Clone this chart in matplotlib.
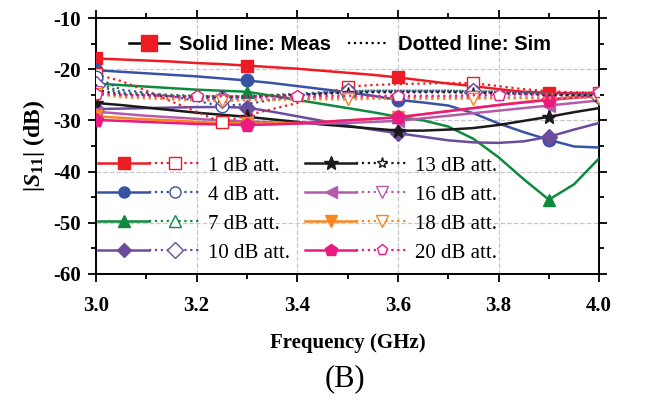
import numpy as np
import matplotlib
matplotlib.use('Agg')
import matplotlib.pyplot as plt
from matplotlib.lines import Line2D
from matplotlib.legend_handler import HandlerTuple

plt.rcParams['font.family'] = 'Liberation Serif'
plt.rcParams['axes.unicode_minus'] = False
plt.rcParams['mathtext.fontset'] = 'custom'
plt.rcParams['mathtext.rm'] = 'Liberation Serif:bold'
plt.rcParams['mathtext.it'] = 'Liberation Serif:bold:italic'
plt.rcParams['mathtext.bf'] = 'Liberation Serif:bold'

# frequency grid (GHz)
freq = np.round(np.arange(3.0, 4.0001, 0.05), 2)

labels = ['1 dB att.', '4 dB att.', '7 dB att.', '10 dB att.',
          '13 dB att.', '16 dB att.', '18 dB att.', '20 dB att.']

# measured |S11| (dB)
meas_1 = [-17.9, -18.1, -18.3, -18.5, -18.8, -19.0, -19.3, -19.6, -19.9, -20.3, -20.7,
          -21.1, -21.6, -22.2, -22.8, -23.3, -23.9, -24.4, -24.6, -24.7, -24.8]
meas_4 = [-20.2, -20.5, -20.8, -21.1, -21.4, -21.8, -22.2, -22.7, -23.3, -23.9, -24.5,
          -25.2, -26.0, -26.5, -27.1, -28.6, -30.6, -32.3, -33.8, -35.1, -35.3]
meas_7 = [-22.8, -23.1, -23.4, -23.7, -24.0, -24.2, -24.4, -25.2, -26.0, -26.8, -27.6,
          -28.4, -29.3, -30.0, -31.2, -33.6, -37.2, -41.5, -45.5, -42.5, -37.4]
meas_10 = [-27.8, -27.7, -27.6, -27.5, -27.4, -27.4, -27.5, -28.3, -29.2, -30.1, -31.0,
           -31.8, -32.5, -33.2, -33.9, -34.3, -34.4, -34.1, -33.2, -31.8, -30.5]
meas_13 = [-26.6, -27.0, -27.5, -28.0, -28.5, -28.9, -29.3, -29.8, -30.3, -30.8, -31.2,
           -31.6, -32.0, -32.0, -31.8, -31.5, -30.9, -30.1, -29.3, -28.4, -27.6]
meas_16 = [-28.3, -28.7, -29.1, -29.4, -29.7, -30.0, -30.2, -30.4, -30.6, -30.6, -30.5,
           -30.3, -30.1, -29.6, -29.1, -28.6, -28.1, -27.6, -27.1, -26.6, -26.1]
meas_18 = [-29.2, -29.5, -29.8, -30.0, -30.3, -30.5, -30.6, -30.6, -30.5, -30.3, -30.0,
           -29.7, -29.4, -28.8, -28.2, -27.6, -27.0, -26.4, -25.9, -25.4, -25.0]
meas_20 = [-29.9, -30.1, -30.3, -30.5, -30.7, -30.8, -30.9, -30.8, -30.6, -30.3, -30.0,
           -29.7, -29.4, -28.8, -28.2, -27.6, -27.0, -26.5, -26.0, -25.6, -25.2]

# simulated |S11| (dB)
sim_1 = [-21.0, -22.3, -24.2, -26.3, -28.3, -30.4, -29.0, -27.8, -26.6, -25.0, -23.4,
         -23.1, -22.9, -22.8, -22.7, -22.7, -23.3, -23.9, -24.3, -24.5, -24.6]
sim_4 = [-21.5, -24.0, -24.6, -25.3, -26.2, -27.2, -26.8, -26.0, -25.2, -24.6, -24.3,
         -24.2, -24.2, -24.2, -24.2, -24.3, -24.4, -24.6, -24.8, -24.9, -25.0]
sim_7 = [-22.5, -24.5, -24.8, -25.0, -25.2, -25.3, -25.2, -25.0, -24.8, -24.5, -24.3,
         -24.2, -24.2, -24.2, -24.2, -24.3, -24.4, -24.6, -24.8, -24.9, -25.0]
sim_10 = [-23.0, -24.8, -25.0, -25.3, -25.6, -25.8, -25.6, -25.3, -25.0, -24.7, -24.5,
          -24.4, -24.4, -24.4, -24.4, -24.5, -24.6, -24.8, -25.0, -25.1, -25.2]
sim_13 = [-24.0, -25.0, -25.1, -25.3, -25.4, -25.5, -25.4, -25.2, -25.0, -24.8, -24.6,
          -24.5, -24.5, -24.5, -24.5, -24.6, -24.7, -24.9, -25.0, -25.1, -25.2]
sim_16 = [-24.5, -25.3, -25.5, -25.7, -25.9, -26.0, -25.9, -25.8, -25.7, -25.6, -25.6,
          -25.5, -25.5, -25.5, -25.5, -25.5, -25.5, -25.5, -25.5, -25.5, -25.5]
sim_18 = [-24.8, -25.5, -25.7, -25.9, -26.1, -26.2, -26.1, -26.0, -26.0, -25.9, -25.9,
          -25.8, -25.8, -25.8, -25.8, -25.8, -25.7, -25.7, -25.7, -25.6, -25.6]
sim_20 = [-24.8, -25.0, -25.1, -25.2, -25.3, -25.3, -25.3, -25.2, -25.2, -25.2, -25.2,
          -25.2, -25.2, -25.2, -25.2, -25.1, -25.0, -24.9, -24.8, -24.6, -24.5]

meas = [meas_1, meas_4, meas_7, meas_10, meas_13, meas_16, meas_18, meas_20]
sims = [sim_1, sim_4, sim_7, sim_10, sim_13, sim_16, sim_18, sim_20]

colors = ['#ED1C24', '#3953A4', '#0E8A3E', '#6B4C9D', '#1A1A1A', '#B45CAA', '#F7861F', '#EC1A7F']
mk_meas = ['s', 'o', '^', 'D', '*', '<', 'v', 'p']
mk_sim = ['s', 'o', '^', 'D', '*', 'v', 'v', 'p']
ms_meas = [9, 9, 9, 8, 11, 9, 9, 10]
sim_every = [5, 5, 5, 5, 5, 5, 5, 4]

fig = plt.figure(figsize=(6.57, 4.01), dpi=100)
ax = fig.add_axes([0.146, 0.317, 0.766, 0.638])

for i in range(8):
    ax.plot(freq, meas[i], color=colors[i], lw=1.8, marker=mk_meas[i], ms=ms_meas[i],
            markevery=6, mec=colors[i], mfc=colors[i], zorder=3 + i * 0.01)
for i in range(8):
    ax.plot(freq, sims[i], color=colors[i], lw=1.6, ls=':', marker=mk_sim[i], ms=9,
            markevery=sim_every[i], mec=colors[i], mfc='white', mew=1.0, zorder=4 + i * 0.01)

ax.set_xlim(3.0, 4.0)
ax.set_ylim(-60, -10)
ax.set_xticks(np.arange(3.0, 4.01, 0.2))
ax.set_xticks(np.arange(3.0, 4.01, 0.1), minor=True)
ax.set_yticks(np.arange(-60, -9, 10))
ax.set_yticks(np.arange(-60, -9, 5), minor=True)
ax.set_xticklabels(['%.1f' % v for v in np.arange(3.0, 4.01, 0.2)])
ax.grid(True, which='major', ls='--', color='#c8c8c8', lw=0.9)
ax.tick_params(which='both', direction='out', top=True, right=True, width=1.3,
               labelsize=15)
ax.tick_params(which='major', length=6)
ax.tick_params(which='minor', length=3.5)
ax.tick_params(axis='x', pad=10)
ax.tick_params(axis='y', pad=5)
for lab in ax.get_xticklabels() + ax.get_yticklabels():
    lab.set_fontweight('bold')
for s in ax.spines.values():
    s.set_linewidth(1.4)

ax.set_xlabel('Frequency (GHz)', fontsize=15, fontweight='bold', labelpad=12)
ax.set_ylabel(r'$|S_{11}|$ (dB)', fontsize=17, fontweight='bold', labelpad=4)
fig.text(0.525, 0.055, '(B)', fontsize=22, ha='center', va='center')

# top legend: measured vs simulated
h_solid = Line2D([], [], color='black', lw=1.8, marker='s', ms=11, mfc='#ED1C24', mec='#ED1C24')
h_dot = Line2D([], [], color='black', lw=1.6, ls=':')
leg1 = ax.legend([h_solid, h_dot], ['Solid line: Meas', 'Dotted line: Sim'], ncol=2,
                 loc='center', bbox_to_anchor=(0.485, 0.895), frameon=False,
                 prop={'family': 'Liberation Sans', 'weight': 'bold', 'size': 14.5},
                 handlelength=2.0, handletextpad=0.5, columnspacing=0.8)
ax.add_artist(leg1)

# bottom legend: attenuation states
handles = []
for i in range(8):
    hs = Line2D([], [], color=colors[i], lw=1.8, marker=mk_meas[i], ms=ms_meas[i] - 1,
                mfc=colors[i], mec=colors[i])
    hd = Line2D([], [], color=colors[i], lw=1.6, ls=':', marker=mk_sim[i], ms=8,
                mfc='white', mec=colors[i], mew=1.0)
    handles.append((hs, hd))
ax.legend(handles, labels, ncol=2, loc='lower left', bbox_to_anchor=(-0.02, -0.005),
          frameon=False, prop={'family': 'Liberation Serif', 'size': 15},
          handler_map={tuple: HandlerTuple(ndivide=None, pad=0.0)},
          handlelength=4.9, handletextpad=0.35, columnspacing=0.75, labelspacing=0.45,
          borderaxespad=0.2)

fig.savefig('out.png', dpi=100)
